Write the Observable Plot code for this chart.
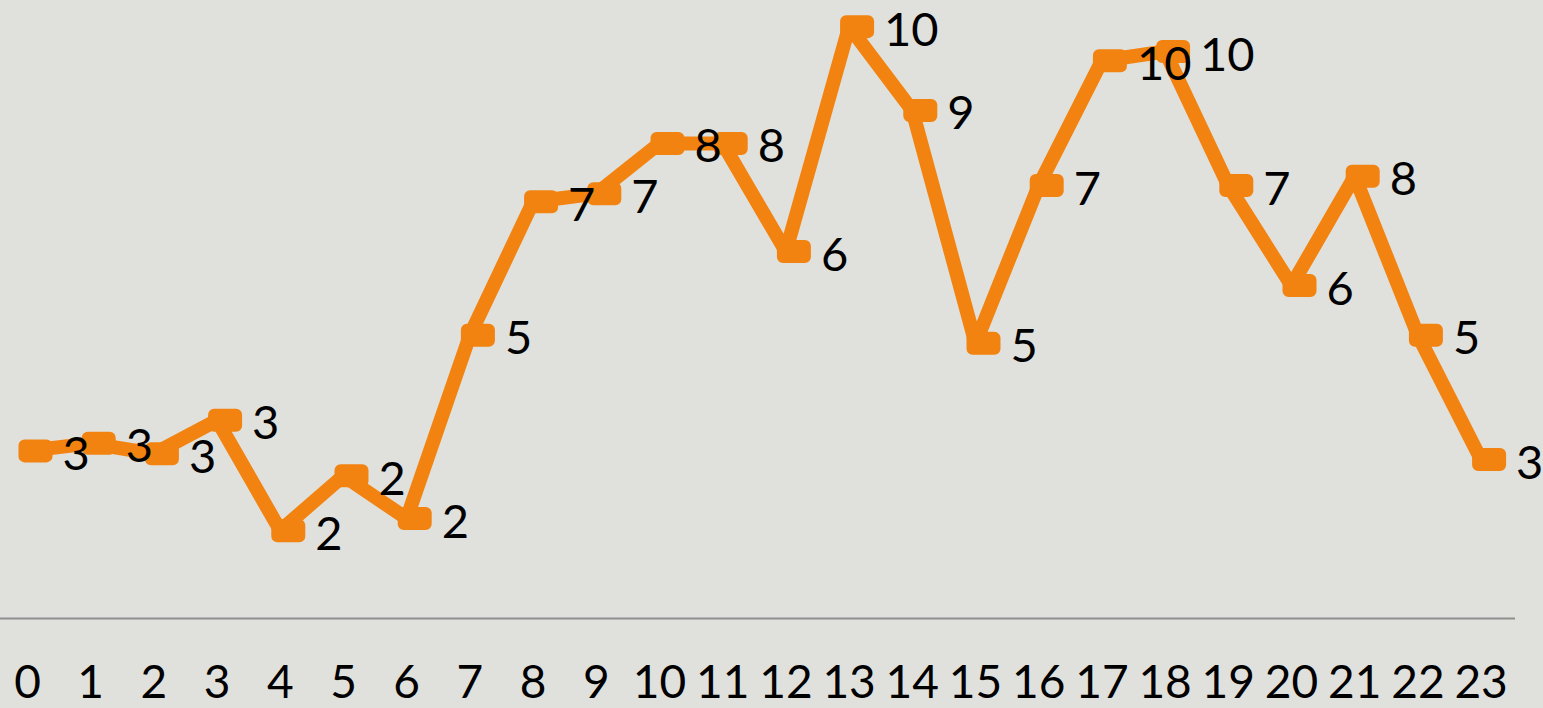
<!DOCTYPE html>
<html>
<head>
<meta charset="utf-8">
<script src="https://cdn.jsdelivr.net/npm/d3@7"></script>
<script src="https://cdn.jsdelivr.net/npm/@observablehq/plot@0.6"></script>
<style>
  html, body { margin: 0; padding: 0; background: #e0e1dc; }
  #chart { width: 1543px; height: 708px; }
</style>
</head>
<body>
<div id="chart"></div>
<script>
const hours = d3.range(0, 24);
const values = [2.90, 3.03, 2.85, 3.43, 1.52, 2.47, 1.73, 4.90, 7.21, 7.35, 8.22, 8.22,
                6.35, 10.24, 8.79, 4.76, 7.49, 9.65, 9.81, 7.49, 5.76, 7.65, 4.90, 2.75];
const labels = values.map(v => String(Math.round(v)));

const data = hours.map((h, i) => ({hour: h, value: values[i], label: labels[i]}));

const orange = "#f28311";

const roundedRect = {
  draw(context) {
    const w = 17, h = 11.5, r = 6;
    context.moveTo(-w + r, -h);
    context.lineTo(w - r, -h);
    context.arcTo(w, -h, w, -h + r, r);
    context.lineTo(w, h - r);
    context.arcTo(w, h, w - r, h, r);
    context.lineTo(-w + r, h);
    context.arcTo(-w, h, -w, h - r, r);
    context.lineTo(-w, -h + r);
    context.arcTo(-w, -h, -w + r, -h, r);
    context.closePath();
  }
};

const step = 63.2;
const chart = Plot.plot({
  width: 1543,
  height: 708,
  marginLeft: 0,
  marginRight: 28,
  marginTop: 0,
  marginBottom: 90,
  style: {background: "#e0e1dc", fontFamily: "Lato, 'Open Sans', sans-serif", color: "#000"},
  x: {type: "linear", domain: [-27 / step, (1515 - 27) / step], label: null},
  y: {domain: [0, 618 / 57.8], axis: null},
  marks: [
    Plot.ruleY([0], {stroke: "#8e8e8e", strokeWidth: 2}),
    Plot.axisX({ticks: hours, tickSize: 0, tickPadding: 47, fontSize: 46, tickFormat: d => String(d), fill: "#000", label: null}),
    Plot.line(data, {x: "hour", y: "value", stroke: orange, strokeWidth: 14, strokeLinejoin: "round", strokeLinecap: "round"}),
    Plot.dot(data, {x: "hour", y: "value", symbol: roundedRect, fill: orange, stroke: "none", dx: 8}),
    Plot.text(data, {x: "hour", y: "value", text: "label", dx: 35, dy: 4, textAnchor: "start", fontSize: 47, fill: "#000"})
  ]
});
document.getElementById("chart").appendChild(chart);
</script>
</body>
</html>
